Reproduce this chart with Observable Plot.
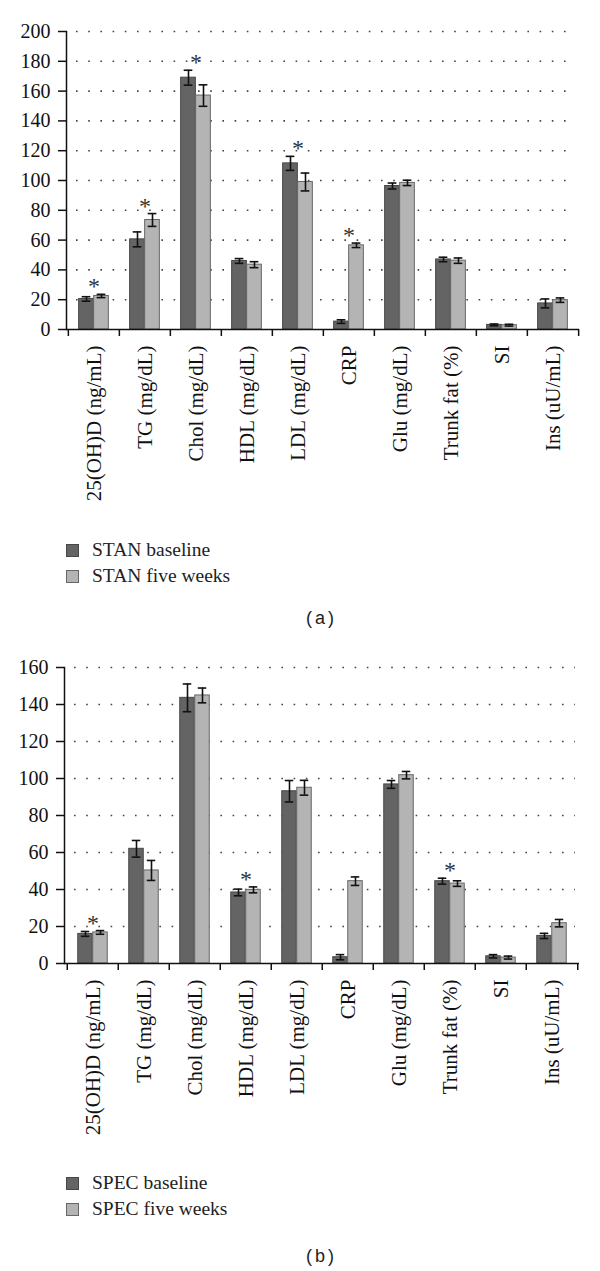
<!DOCTYPE html>
<html><head><meta charset="utf-8">
<script src="https://cdn.jsdelivr.net/npm/d3@7"></script>
<script src="https://cdn.jsdelivr.net/npm/@observablehq/plot@0.6"></script>
<style>
body{margin:0;background:#fff;width:600px;height:1271px;position:relative;overflow:hidden;font-family:"Liberation Serif",serif;}
.panel{position:absolute;left:0;}
.legend{position:absolute;left:66px;font-size:19.5px;color:#222;}
.row{display:flex;align-items:center;height:26px;white-space:nowrap;}
.sw{width:13px;height:13px;box-sizing:border-box;margin-right:13px;}
.cap{position:absolute;left:270px;width:100px;text-align:center;font-family:"Liberation Sans",Arial,sans-serif;font-size:18px;color:#222;word-spacing:-2px;line-height:20px;}
</style>
</head><body>
<div id="pa" class="panel" style="top:0px"></div>
<div id="la" class="legend" style="top:537px"></div>
<div class="cap" style="top:608px">( a )</div>
<div id="pb" class="panel" style="top:640px"></div>
<div id="lb" class="legend" style="top:1170px"></div>
<div class="cap" style="top:1246px">( b )</div>
<script>
const categories = ["25(OH)D (ng/mL)", "TG (mg/dL)", "Chol (mg/dL)", "HDL (mg/dL)", "LDL (mg/dL)", "CRP", "Glu (mg/dL)", "Trunk fat (%)", "SI", "Ins (uU/mL)"];

const stanBaseline    = [20.5, 60.5, 169.0, 46.0, 111.5, 5.3, 96.3, 47.0, 3.1, 17.5];
const stanBaselineErr = [1.5, 5.0, 5.0, 1.6, 4.7, 1.2, 2.0, 1.5, 0.6, 3.0];
const stanFive        = [22.5, 73.5, 157.0, 43.5, 99.0, 56.5, 98.4, 46.2, 2.9, 19.7];
const stanFiveErr     = [1.1, 4.3, 7.2, 2.0, 6.0, 1.5, 1.8, 1.8, 0.6, 1.5];
const stanSig         = [true, true, true, false, true, true, false, false, false, false];

const specBaseline    = [16.0, 62.0, 143.6, 38.4, 93.1, 3.4, 96.8, 44.5, 3.9, 14.9];
const specBaselineErr = [1.3, 4.5, 7.5, 1.8, 5.8, 1.4, 2.1, 1.6, 0.9, 1.4];
const specFive        = [16.8, 50.3, 144.9, 39.8, 95.0, 44.5, 101.8, 43.2, 3.2, 21.8];
const specFiveErr     = [1.0, 5.4, 4.0, 1.6, 4.0, 2.3, 2.0, 1.5, 0.8, 2.0];
const specSig         = [true, false, false, true, false, false, false, true, false, false];

const stanLegend = ["STAN baseline", "STAN five weeks"];
const specLegend = ["SPEC baseline", "SPEC five weeks"];

const darkFill = "#646464", darkStroke = "#474747";
const lightFill = "#b4b4b4", lightStroke = "#676767";

function panel({v1, e1, v2, e2, sig, yMax, marginTop, marginLeft, height, marginBottom}) {
  const W = 600, marginRight = 21;
  const bw = (W - marginLeft - marginRight) / categories.length;
  const barW = 15, half = barW / 2;
  const inset = (bw - barW) / 2;
  const capInset = (bw - 9) / 2;
  const rows = categories.map((c, i) => ({
    cat: c, b: v1[i], be: e1[i], f: v2[i], fe: e2[i], sig: sig[i],
    top: Math.max(v1[i] + e1[i], v2[i] + e2[i])
  }));
  const yTicks = d3.range(0, yMax + 1, 20);
  const errStyle = {stroke: "#111", strokeWidth: 1.6};
  return Plot.plot({
    width: W, height, marginTop, marginLeft, marginRight, marginBottom,
    x: {domain: categories, padding: 0, axis: null, label: null},
    y: {domain: [0, yMax], axis: null, label: null},
    style: {fontFamily: "'Liberation Serif', serif", color: "#111", background: "white"},
    marks: [
      Plot.ruleY(yTicks.slice(1), {stroke: "#444", strokeWidth: 1.6, strokeDasharray: "1.6,10.6", insetLeft: 10, insetRight: 4}),
      Plot.barY(rows, {x: "cat", y: "b", fill: darkFill, stroke: darkStroke, strokeWidth: 1, insetLeft: inset, insetRight: inset, dx: -half}),
      Plot.barY(rows, {x: "cat", y: "f", fill: lightFill, stroke: lightStroke, strokeWidth: 1, insetLeft: inset, insetRight: inset, dx: half}),
      Plot.ruleX(rows, {x: "cat", y1: d => d.b - d.be, y2: d => d.b + d.be, dx: -half, ...errStyle}),
      Plot.tickY(rows, {x: "cat", y: d => d.b + d.be, dx: -half, insetLeft: capInset, insetRight: capInset, ...errStyle}),
      Plot.tickY(rows, {x: "cat", y: d => d.b - d.be, dx: -half, insetLeft: capInset, insetRight: capInset, ...errStyle}),
      Plot.ruleX(rows, {x: "cat", y1: d => d.f - d.fe, y2: d => d.f + d.fe, dx: half, ...errStyle}),
      Plot.tickY(rows, {x: "cat", y: d => d.f + d.fe, dx: half, insetLeft: capInset, insetRight: capInset, ...errStyle}),
      Plot.tickY(rows, {x: "cat", y: d => d.f - d.fe, dx: half, insetLeft: capInset, insetRight: capInset, ...errStyle}),
      Plot.text(rows.filter(d => d.sig), {x: "cat", y: "top", text: () => "*", lineAnchor: "bottom", dy: 0, fontSize: 24, fill: "#333"}),
      Plot.frame({anchor: "left", stroke: "#111", strokeWidth: 1.5}),
      Plot.ruleY([0], {stroke: "#111", strokeWidth: 1.5}),
      Plot.axisY({ticks: yTicks, tickSize: 8, tickPadding: 8, fontSize: 20, tickFormat: d => String(d), strokeWidth: 1.5, label: null}),
      Plot.ruleX(categories, {x: d => d, y1: 0, y2: 0, dx: -bw / 2, insetBottom: -7, stroke: "#111", strokeWidth: 1.5}),
      Plot.ruleX(categories.slice(-1), {x: d => d, y1: 0, y2: 0, dx: bw / 2, insetBottom: -7, stroke: "#111", strokeWidth: 1.5}),
      Plot.axisX({tickRotate: -90, tickSize: 0, tickPadding: 16, fontSize: 21, fill: "#111", label: null})
    ]
  });
}

function legend(el, labels) {
  const fills = [[darkFill, darkStroke], [lightFill, lightStroke]];
  labels.forEach((t, i) => {
    const r = document.createElement("div"); r.className = "row";
    const s = document.createElement("div"); s.className = "sw";
    s.style.background = fills[i][0]; s.style.border = "1px solid " + fills[i][1];
    const l = document.createElement("span"); l.textContent = t;
    r.appendChild(s); r.appendChild(l); el.appendChild(r);
  });
}

document.getElementById("pa").appendChild(panel({
  v1: stanBaseline, e1: stanBaselineErr, v2: stanFive, e2: stanFiveErr, sig: stanSig,
  yMax: 200, marginTop: 31, marginLeft: 66, height: 520, marginBottom: 191
}));
document.getElementById("pb").appendChild(panel({
  v1: specBaseline, e1: specBaselineErr, v2: specFive, e2: specFiveErr, sig: specSig,
  yMax: 160, marginTop: 27, marginLeft: 64, height: 520, marginBottom: 197
}));
legend(document.getElementById("la"), stanLegend);
legend(document.getElementById("lb"), specLegend);
</script>
</body></html>
